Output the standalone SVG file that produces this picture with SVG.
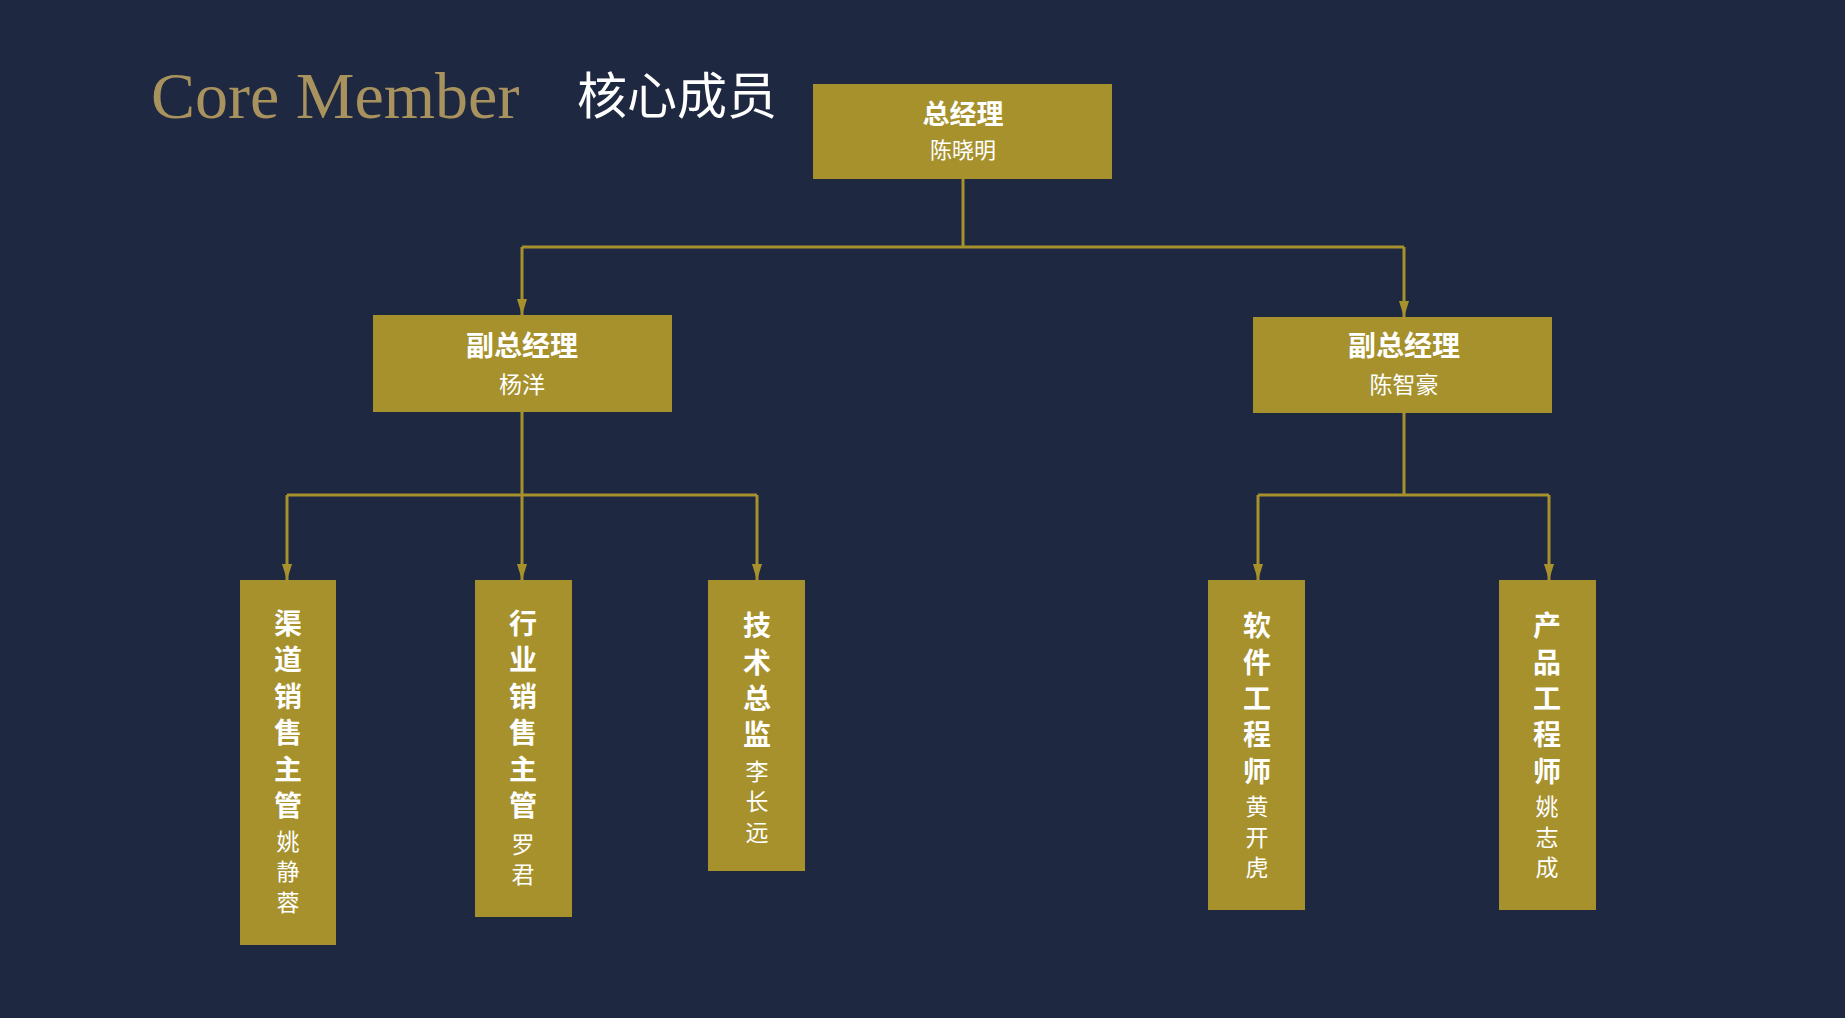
<svg xmlns="http://www.w3.org/2000/svg" width="1845" height="1018" viewBox="0 0 1845 1018">
<defs>
<marker id="ah" viewBox="0 0 16 10" refX="16" refY="5" markerWidth="16" markerHeight="10" markerUnits="userSpaceOnUse" orient="auto"><path d="M0,0 L16,5 L0,10 Z" fill="#a6912d"/></marker>
<style>
.box{fill:#a6912d}
.t{font-family:"Noto Sans CJK SC",sans-serif;fill:#fff;text-anchor:middle;font-weight:bold}
.n{font-family:"Noto Sans CJK SC",sans-serif;fill:#fff;text-anchor:middle}
.c{fill:none;stroke:#a6912d;stroke-width:3}
</style>
</defs>
<rect width="1845" height="1018" fill="#1f2841"/>
<text x="151" y="118" font-family="Liberation Serif,serif" font-size="66" fill="#a8925e">Core Member</text>
<text x="577" y="114" font-family="Noto Sans CJK SC,sans-serif" font-size="50" fill="#fff">核心成员</text>
<g id="connectors">
<path class="c" d="M963,179 V247 M522,247 H1404"/>
<path class="c" d="M522,247 V315" marker-end="url(#ah)"/>
<path class="c" d="M1404,247 V317" marker-end="url(#ah)"/>
<path class="c" d="M522,412 V495 M287,495 H757"/>
<path class="c" d="M287,495 V580" marker-end="url(#ah)"/>
<path class="c" d="M522,495 V580" marker-end="url(#ah)"/>
<path class="c" d="M757,495 V580" marker-end="url(#ah)"/>
<path class="c" d="M1404,413 V495 M1258,495 H1549"/>
<path class="c" d="M1258,495 V580" marker-end="url(#ah)"/>
<path class="c" d="M1549,495 V580" marker-end="url(#ah)"/>
</g>
<g id="gm"><rect class="box" x="813" y="84" width="299" height="95"/><text class="t" x="963" y="124" font-size="27">总经理</text><text class="n" x="963" y="158" font-size="22">陈晓明</text></g>
<g id="vp1"><rect class="box" x="373" y="315" width="299" height="97"/><text class="t" x="522" y="356" font-size="28">副总经理</text><text class="n" x="522" y="393" font-size="23">杨洋</text></g>
<g id="vp2"><rect class="box" x="1253" y="317" width="299" height="96"/><text class="t" x="1404" y="356" font-size="28">副总经理</text><text class="n" x="1404" y="393" font-size="23">陈智豪</text></g>
<g id="m1"><rect class="box" x="240" y="580" width="96" height="365"/>
<text class="t" font-size="28"><tspan x="288" y="634">渠</tspan><tspan x="288" y="670">道</tspan><tspan x="288" y="707">销</tspan><tspan x="288" y="743">售</tspan><tspan x="288" y="780">主</tspan><tspan x="288" y="816">管</tspan></text>
<text class="n" font-size="23"><tspan x="288" y="850">姚</tspan><tspan x="288" y="880">静</tspan><tspan x="288" y="911">蓉</tspan></text></g>
<g id="m2"><rect class="box" x="475" y="580" width="97" height="337"/>
<text class="t" font-size="28"><tspan x="523" y="634">行</tspan><tspan x="523" y="670">业</tspan><tspan x="523" y="707">销</tspan><tspan x="523" y="743">售</tspan><tspan x="523" y="780">主</tspan><tspan x="523" y="816">管</tspan></text>
<text class="n" font-size="23"><tspan x="523" y="853">罗</tspan><tspan x="523" y="883">君</tspan></text></g>
<g id="m3"><rect class="box" x="708" y="580" width="97" height="291"/>
<text class="t" font-size="28"><tspan x="757" y="636">技</tspan><tspan x="757" y="673">术</tspan><tspan x="757" y="709">总</tspan><tspan x="757" y="745">监</tspan></text>
<text class="n" font-size="23"><tspan x="757" y="780">李</tspan><tspan x="757" y="810">长</tspan><tspan x="757" y="841">远</tspan></text></g>
<g id="m4"><rect class="box" x="1208" y="580" width="97" height="330"/>
<text class="t" font-size="28"><tspan x="1257" y="636">软</tspan><tspan x="1257" y="673">件</tspan><tspan x="1257" y="709">工</tspan><tspan x="1257" y="745">程</tspan><tspan x="1257" y="782">师</tspan></text>
<text class="n" font-size="23"><tspan x="1257" y="815">黄</tspan><tspan x="1257" y="846">开</tspan><tspan x="1257" y="876">虎</tspan></text></g>
<g id="m5"><rect class="box" x="1499" y="580" width="97" height="330"/>
<text class="t" font-size="28"><tspan x="1547" y="636">产</tspan><tspan x="1547" y="673">品</tspan><tspan x="1547" y="709">工</tspan><tspan x="1547" y="745">程</tspan><tspan x="1547" y="782">师</tspan></text>
<text class="n" font-size="23"><tspan x="1547" y="815">姚</tspan><tspan x="1547" y="846">志</tspan><tspan x="1547" y="876">成</tspan></text></g>
</svg>
